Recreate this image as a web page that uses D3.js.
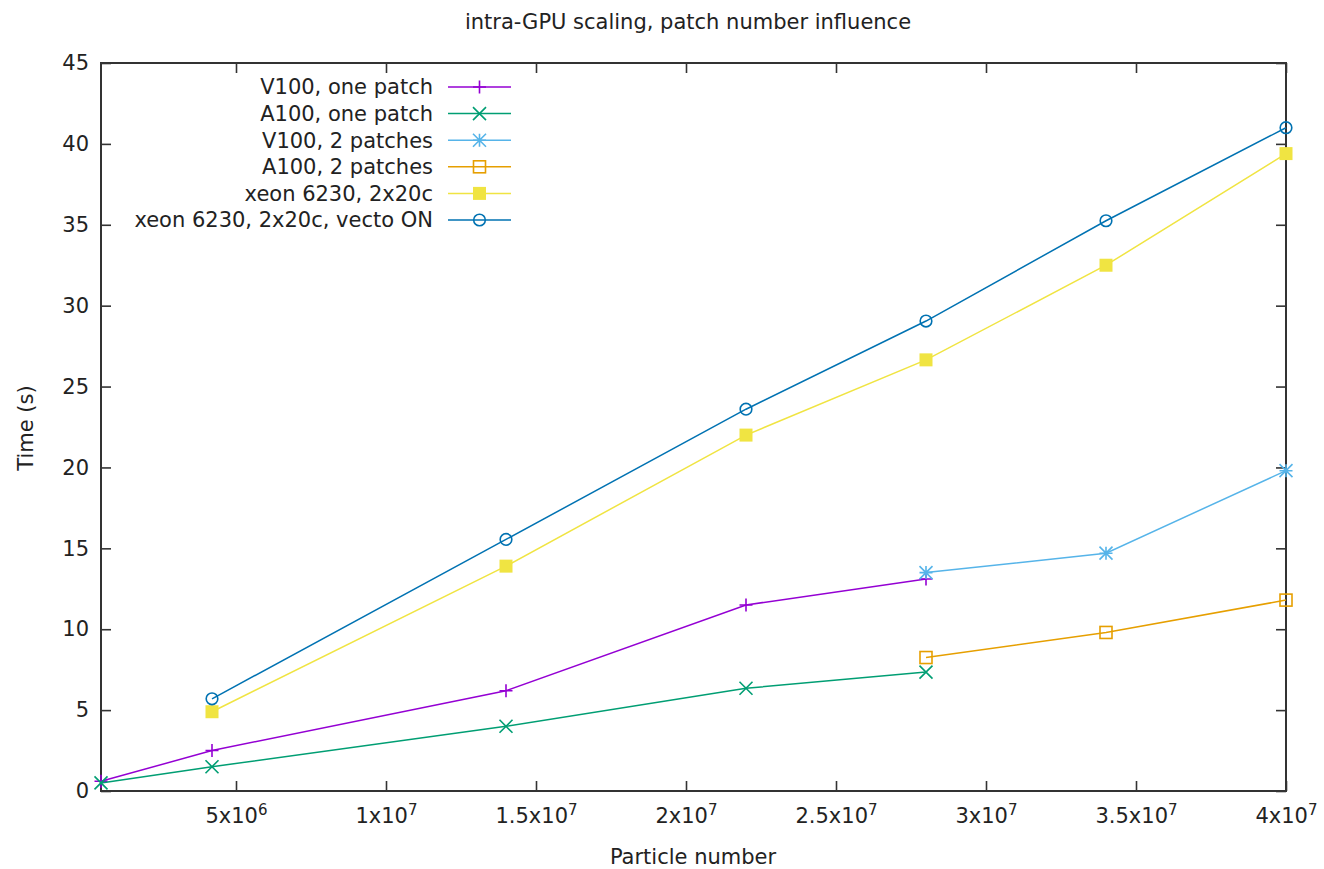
<!DOCTYPE html>
<html>
<head>
<meta charset="utf-8">
<script src="https://cdn.jsdelivr.net/npm/d3@7"></script>
<style>
  body { margin: 0; background: #fff; }
  text { font-family: "DejaVu Sans", sans-serif; fill: #222; }
</style>
</head>
<body>
<svg id="chart" width="1324" height="869"></svg>
<script>
// x positions (particle number) shared by series
const xTicks = [5e6, 1e7, 1.5e7, 2e7, 2.5e7, 3e7, 3.5e7, 4e7];
const yTicks = [0, 5, 10, 15, 20, 25, 30, 35, 40, 45];

const v100One = [[5e5, 0.6], [4.2e6, 2.5], [1.4e7, 6.2], [2.2e7, 11.5], [2.8e7, 13.1]];
const a100One = [[5e5, 0.5], [4.2e6, 1.5], [1.4e7, 4.0], [2.2e7, 6.35], [2.8e7, 7.35]];
const v100Two = [[2.8e7, 13.5], [3.4e7, 14.7], [4e7, 19.8]];
const a100Two = [[2.8e7, 8.25], [3.4e7, 9.8], [4e7, 11.8]];
const xeon = [[4.2e6, 4.9], [1.4e7, 13.9], [2.2e7, 22.0], [2.8e7, 26.65], [3.4e7, 32.5], [4e7, 39.4]];
const xeonVecto = [[4.2e6, 5.7], [1.4e7, 15.55], [2.2e7, 23.6], [2.8e7, 29.05], [3.4e7, 35.25], [4e7, 41.0]];

const seriesNames = [
  "V100, one patch", "A100, one patch", "V100, 2 patches",
  "A100, 2 patches", "xeon 6230, 2x20c", "xeon 6230, 2x20c, vecto ON"
];
const seriesData = [v100One, a100One, v100Two, a100Two, xeon, xeonVecto];
const seriesColors = ["#9400d3", "#009e73", "#56b4e9", "#e69f00", "#f0e442", "#0072b2"];
const seriesMarks = ["plus", "cross", "star", "square", "filledSquare", "circle"];

const svg = d3.select("#chart");
const margin = { left: 101, right: 38, top: 63, bottom: 78 };
const W = 1324, H = 869;
const fs = "21px";

const x = d3.scaleLinear().domain([5e5, 4e7]).range([margin.left, W - margin.right]);
const y = d3.scaleLinear().domain([0, 45]).range([H - margin.bottom, margin.top]);

// title and axis labels
svg.append("text").attr("x", 688).attr("y", 29).attr("text-anchor", "middle")
  .style("font-size", fs).text("intra-GPU scaling, patch number influence");
svg.append("text").attr("x", 693).attr("y", 864).attr("text-anchor", "middle")
  .style("font-size", fs).text("Particle number");
svg.append("text").attr("transform", "translate(33,428) rotate(-90)").attr("text-anchor", "middle")
  .style("font-size", fs).text("Time (s)");

// axes, ticks pointing inward, mirrored on the opposite side
const tickLen = 10;
const xAxisB = d3.axisBottom(x).tickValues(xTicks).tickSizeInner(-tickLen).tickSizeOuter(0).tickPadding(17);
const xAxisT = d3.axisTop(x).tickValues(xTicks).tickSizeInner(-tickLen).tickSizeOuter(0).tickFormat("");
const yAxisL = d3.axisLeft(y).tickValues(yTicks).tickSizeInner(-tickLen).tickSizeOuter(0).tickPadding(12);
const yAxisR = d3.axisRight(y).tickValues(yTicks).tickSizeInner(-tickLen).tickSizeOuter(0).tickFormat("");

const gxb = svg.append("g").attr("transform", `translate(0,${y(0)})`).call(xAxisB);
svg.append("g").attr("transform", `translate(0,${y(45)})`).call(xAxisT);
svg.append("g").attr("transform", `translate(${x(5e5)},0)`).call(yAxisL);
svg.append("g").attr("transform", `translate(${x(4e7)},0)`).call(yAxisR);

svg.selectAll(".domain").remove();
svg.selectAll(".tick line").attr("stroke", "#333").attr("stroke-width", 1.6);
svg.selectAll(".tick text").style("font-size", fs).style("font-family", "DejaVu Sans, sans-serif").attr("fill", "#222");

// x labels as mantissa x 10^exp with superscript
gxb.selectAll(".tick text").each(function(d) {
  const exp = Math.floor(Math.log10(d));
  const mant = +(d / Math.pow(10, exp)).toFixed(1);
  const t = d3.select(this).text("");
  t.append("tspan").text(mant + "x10");
  t.append("tspan").attr("dy", "-0.5em").style("font-size", "15px").text(exp);
});

// plot frame
svg.append("rect")
  .attr("x", x(5e5)).attr("y", y(45))
  .attr("width", x(4e7) - x(5e5)).attr("height", y(0) - y(45))
  .attr("fill", "none").attr("stroke", "#333").attr("stroke-width", 2);

// marker drawing
function drawMark(g, kind, cx, cy, color) {
  const s = 6.5;
  if (kind === "plus") {
    g.append("path").attr("d", `M${cx - s},${cy}H${cx + s}M${cx},${cy - s}V${cy + s}`)
      .attr("stroke", color).attr("stroke-width", 1.6).attr("fill", "none");
  } else if (kind === "cross") {
    g.append("path").attr("d", `M${cx - s},${cy - s}L${cx + s},${cy + s}M${cx - s},${cy + s}L${cx + s},${cy - s}`)
      .attr("stroke", color).attr("stroke-width", 1.6).attr("fill", "none");
  } else if (kind === "star") {
    g.append("path").attr("d", `M${cx - s},${cy}H${cx + s}M${cx},${cy - s}V${cy + s}M${cx - s},${cy - s}L${cx + s},${cy + s}M${cx - s},${cy + s}L${cx + s},${cy - s}`)
      .attr("stroke", color).attr("stroke-width", 1.6).attr("fill", "none");
  } else if (kind === "square") {
    g.append("rect").attr("x", cx - 6).attr("y", cy - 6).attr("width", 12).attr("height", 12)
      .attr("stroke", color).attr("stroke-width", 1.6).attr("fill", "none");
  } else if (kind === "filledSquare") {
    g.append("rect").attr("x", cx - 6.5).attr("y", cy - 6.5).attr("width", 13).attr("height", 13)
      .attr("fill", color);
  } else if (kind === "circle") {
    g.append("circle").attr("cx", cx).attr("cy", cy).attr("r", 5.8)
      .attr("stroke", color).attr("stroke-width", 1.6).attr("fill", "none");
  }
}

const line = d3.line().x(d => x(d[0])).y(d => y(d[1]));

// series
seriesData.forEach((data, i) => {
  const g = svg.append("g");
  g.append("path").datum(data).attr("d", line)
    .attr("fill", "none").attr("stroke", seriesColors[i]).attr("stroke-width", 1.5);
  data.forEach(d => drawMark(g, seriesMarks[i], x(d[0]), y(d[1]), seriesColors[i]));
});

// legend
const legend = svg.append("g");
seriesNames.forEach((name, i) => {
  const ly = 87 + i * 26.6;
  legend.append("text").attr("x", 433).attr("y", ly).attr("dy", "0.35em")
    .attr("text-anchor", "end").style("font-size", fs).text(name);
  legend.append("line").attr("x1", 448).attr("x2", 511).attr("y1", ly).attr("y2", ly)
    .attr("stroke", seriesColors[i]).attr("stroke-width", 1.5);
  drawMark(legend, seriesMarks[i], 479.5, ly, seriesColors[i]);
});
</script>
</body>
</html>
